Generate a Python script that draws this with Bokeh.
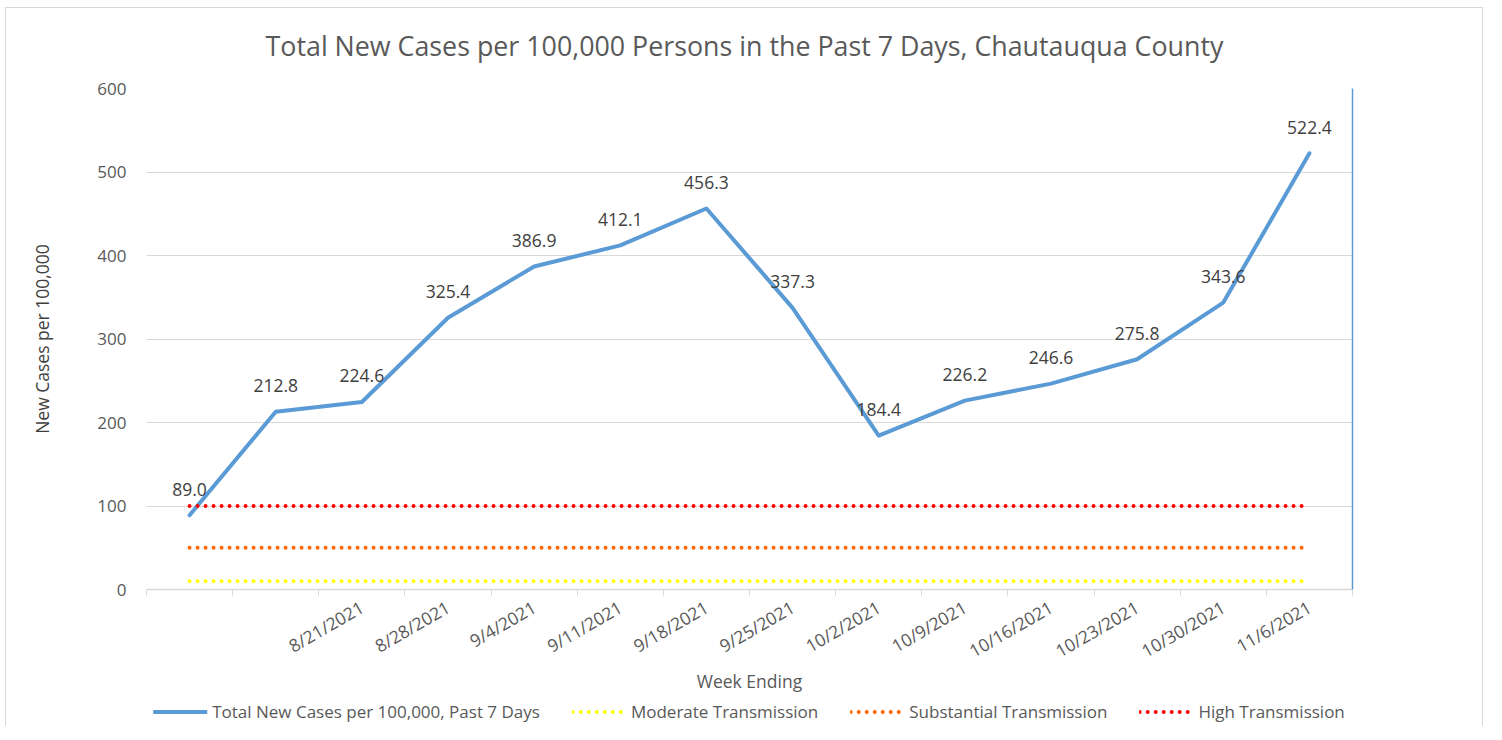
import numpy as np
from bokeh.plotting import figure
from bokeh.layouts import column
from bokeh.models import (Range1d, FixedTicker, LinearAxis, Legend, LegendItem,
                          ColumnDataSource, Label)
from bokeh.core.properties import value
from bokeh.embed import file_html
from bokeh.resources import INLINE

# ---- data ----
week_labels = ["", "", "8/21/2021", "8/28/2021", "9/4/2021", "9/11/2021", "9/18/2021",
               "9/25/2021", "10/2/2021", "10/9/2021", "10/16/2021", "10/23/2021",
               "10/30/2021", "11/6/2021"]
cases = [89.0, 212.8, 224.6, 325.4, 386.9, 412.1, 456.3, 337.3, 184.4, 226.2,
         246.6, 275.8, 343.6, 522.4]
moderate = [10, 10, 10, 10, 10, 10, 10, 10, 10, 10, 10, 10, 10, 10]
substantial = [50, 50, 50, 50, 50, 50, 50, 50, 50, 50, 50, 50, 50, 50]
high = [100, 100, 100, 100, 100, 100, 100, 100, 100, 100, 100, 100, 100, 100]
y_ticks = [0, 100, 200, 300, 400, 500, 600]
series_names = ["Total New Cases per 100,000, Past 7 Days", "Moderate Transmission",
                "Substantial Transmission", "High Transmission"]
title_text = "Total New Cases per 100,000 Persons in the Past 7 Days, Chautauqua County"

FONT = "Open Sans"
GRAY = "#595959"
GRID = "#d9d9d9"
BLUE = "#5b9bd5"
LINE_COLORS = [BLUE, "#ffff00", "#ff6600", "#ff0000"]

n = len(cases)
xs = list(range(n))

src = ColumnDataSource(dict(x=xs, cases=cases, moderate=moderate,
                            substantial=substantial, high=high,
                            lab=["%.1f" % v for v in cases]))
cols = ["cases", "moderate", "substantial", "high"]

W = 1476
FL, FW, FH = 140, 1206, 501
H0 = 70          # title strip
TOP = 10
H1 = 618         # main chart
H2 = 30          # legend strip


def strip(height):
    f = figure(width=W, height=height, output_backend="svg", toolbar_location=None,
               x_range=Range1d(0, 1), y_range=Range1d(0, 1),
               x_axis_location=None, y_axis_location=None,
               min_border_left=0, min_border_right=0, min_border_top=0, min_border_bottom=0)
    f.outline_line_color = None
    f.grid.grid_line_color = None
    f.background_fill_color = "white"
    f.border_fill_color = "white"
    return f


# ---- title strip ----
p0 = strip(H0)
p0.add_layout(Label(x=0.5, y=1 - 37 / H0, x_offset=-5, text=title_text,
                    text_align="center", text_baseline="middle",
                    text_font=FONT, text_font_size="26.8px", text_color=GRAY))

# ---- main chart ----
p = figure(width=W, height=H1, output_backend="svg", toolbar_location=None,
           x_range=Range1d(-0.5, n - 0.5), y_range=Range1d(0, 600),
           min_border_left=FL, min_border_right=W - FL - FW,
           min_border_top=TOP, min_border_bottom=H1 - TOP - FH)
p.outline_line_color = None
p.background_fill_color = "white"
p.border_fill_color = "white"

# x axis
xa = p.xaxis[0]
xa.ticker = FixedTicker(ticks=xs, minor_ticks=list(np.arange(-0.5, n, 1.0)))
xa.major_label_overrides = {i: lab for i, lab in enumerate(week_labels)}
xa.major_label_orientation = np.pi / 6
xa.major_label_text_font = FONT
xa.major_label_text_font_size = "17.5px"
xa.major_label_text_color = GRAY
xa.major_label_standoff = 10
xa.major_tick_out = 0
xa.major_tick_in = 0
xa.minor_tick_out = 6
xa.minor_tick_in = 0
xa.minor_tick_line_color = GRID
xa.axis_line_color = GRID
xa.axis_line_width = 1.5
xa.axis_label = "Week Ending"
xa.axis_label_text_font = FONT
xa.axis_label_text_font_size = "17.5px"
xa.axis_label_text_font_style = "normal"
xa.axis_label_text_color = GRAY
xa.axis_label_standoff = -7

# y axis
ya = p.yaxis[0]
ya.ticker = FixedTicker(ticks=y_ticks)
ya.axis_line_color = None
ya.major_tick_line_color = None
ya.minor_tick_line_color = None
ya.major_label_text_font = FONT
ya.major_label_text_font_size = "17px"
ya.major_label_text_color = GRAY
ya.major_label_standoff = 14
ya.axis_label = "New Cases per 100,000"
ya.axis_label_text_font = FONT
ya.axis_label_text_font_size = "17.5px"
ya.axis_label_text_font_style = "normal"
ya.axis_label_text_color = "#404040"
ya.axis_label_standoff = 40

p.xgrid.grid_line_color = None
p.ygrid.grid_line_color = GRID
p.ygrid.grid_line_width = 1.2
p.ygrid.ticker = FixedTicker(ticks=y_ticks)

# right axis line (blue)
ra = LinearAxis(ticker=FixedTicker(ticks=[]), axis_line_color=BLUE, axis_line_width=1.5,
                major_tick_line_color=None, minor_tick_line_color=None,
                major_label_text_font_size="0px")
p.add_layout(ra, "right")

# series
p.line("x", "cases", source=src, line_width=4, line_color=BLUE,
       line_join="round", line_cap="round")
for c, col in zip(cols[1:], LINE_COLORS[1:]):
    p.line("x", c, source=src, line_width=4, line_color=col,
           line_dash="0 8", line_cap="round")

p.text("x", "cases", text="lab", source=src, text_align="center", text_baseline="middle",
       y_offset=-26, text_font=value(FONT), text_font_size="17.5px", text_color="#404040")

# ---- legend strip below the chart ----
p2 = strip(H2)
p2.x_range = Range1d(1000, 1001)
p2.y_range = Range1d(1000, 1001)
items = []
for i, (c, col, name) in enumerate(zip(cols, LINE_COLORS, series_names)):
    if i == 0:
        r = p2.line("x", c, source=src, line_width=4, line_color=col, line_cap="round")
    else:
        r = p2.line("x", c, source=src, line_width=4, line_color=col,
                    line_dash="0 8", line_cap="round")
    items.append(LegendItem(label=name, renderers=[r]))

legend = Legend(items=items, orientation="horizontal", location="center")
legend.label_text_font = FONT
legend.label_text_font_size = "17px"
legend.label_text_color = GRAY
legend.glyph_width = 54
legend.label_standoff = 5
legend.spacing = 32
legend.border_line_color = None
legend.background_fill_alpha = 0
legend.padding = 2
legend.margin = 0
p2.add_layout(legend, "center")

layout = column(p0, p, p2, spacing=0, margin=(7, 0, 0, 5))
layout.styles = {"border-left": "1px solid #d9d9d9", "border-top": "1px solid #d9d9d9",
                 "border-right": "1px solid #d9d9d9"}

open("out.html", "w").write(file_html(layout, INLINE))
